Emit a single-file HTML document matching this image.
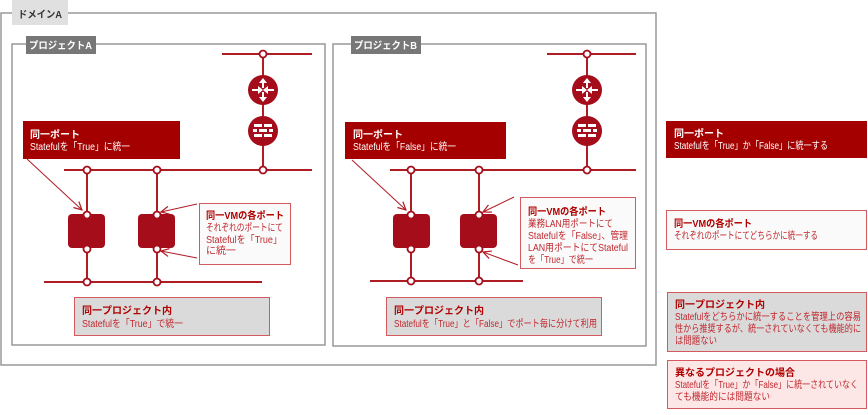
<!DOCTYPE html>
<html><head><meta charset="utf-8"><style>
body{margin:0;background:#fff}
svg text{font-family:"Liberation Sans","Noto Sans CJK JP",sans-serif;font-size:10px}
.b{font-weight:bold}
</style></head><body>
<svg width="868" height="410" viewBox="0 0 868 410" xmlns="http://www.w3.org/2000/svg">
<defs>
<marker id="ar" markerWidth="10" markerHeight="10" refX="9" refY="5" orient="auto" markerUnits="userSpaceOnUse"><path d="M1,1 L9,5 L1,9" fill="none" stroke="#b01c24" stroke-width="1.2"/></marker>
</defs>
<rect x="1" y="13" width="655" height="352" fill="none" stroke="#999" stroke-width="1.5"/>
<rect x="12" y="0" width="56" height="25" fill="#e0e0e0"/>
<text x="18" y="18" class="b" fill="#333" textLength="44" lengthAdjust="spacingAndGlyphs">ドメインA</text>
<rect x="12" y="44" width="313" height="301" fill="none" stroke="#999" stroke-width="1.5"/>
<rect x="26" y="36" width="70" height="18" fill="#777"/>
<text x="29" y="49" class="b" fill="#fff" textLength="63" lengthAdjust="spacingAndGlyphs">プロジェクトA</text>
<rect x="333" y="44" width="313" height="302" fill="none" stroke="#999" stroke-width="1.5"/>
<rect x="351" y="36" width="70" height="18" fill="#777"/>
<text x="354" y="49" class="b" fill="#fff" textLength="63" lengthAdjust="spacingAndGlyphs">プロジェクトB</text>

<g stroke="#b01c24" stroke-width="2" fill="none">
<line x1="222" y1="54" x2="312" y2="54"/><line x1="263" y1="54" x2="263" y2="170"/>
<line x1="64" y1="170" x2="312" y2="170"/><line x1="44" y1="282" x2="262" y2="282"/>
<line x1="87" y1="170" x2="87" y2="282"/><line x1="157" y1="170" x2="157" y2="282"/>
<line x1="547" y1="54" x2="636" y2="54"/><line x1="587" y1="54" x2="587" y2="170"/>
<line x1="390" y1="170" x2="636" y2="170"/><line x1="370" y1="281" x2="523" y2="281"/>
<line x1="411" y1="170" x2="411" y2="281"/><line x1="479" y1="170" x2="479" y2="281"/>
</g>
<g transform="translate(263,90)"><circle r="15" fill="#a50d1a"/><g stroke="#fff" stroke-width="2"><line x1="0" y1="-2" x2="0" y2="-9"/><line x1="0" y1="2" x2="0" y2="9"/><line x1="-11" y1="0" x2="-4" y2="0"/><line x1="11" y1="0" x2="4" y2="0"/></g><g fill="#fff"><path d="M-4,-7 L0,-12 L4,-7Z"/><path d="M-4,7 L0,12 L4,7Z"/><path d="M-5,-4 L0,0 L-5,4Z"/><path d="M5,-4 L0,0 L5,4Z"/></g></g>
<g transform="translate(587,90)"><circle r="15" fill="#a50d1a"/><g stroke="#fff" stroke-width="2"><line x1="0" y1="-2" x2="0" y2="-9"/><line x1="0" y1="2" x2="0" y2="9"/><line x1="-11" y1="0" x2="-4" y2="0"/><line x1="11" y1="0" x2="4" y2="0"/></g><g fill="#fff"><path d="M-4,-7 L0,-12 L4,-7Z"/><path d="M-4,7 L0,12 L4,7Z"/><path d="M-5,-4 L0,0 L-5,4Z"/><path d="M5,-4 L0,0 L5,4Z"/></g></g>
<g transform="translate(263,131)"><circle r="15" fill="#a50d1a"/><g fill="#fff"><rect x="-9" y="-7" width="8" height="3"/><rect x="1" y="-7" width="8" height="3"/><rect x="-10" y="-2" width="4" height="3"/><rect x="-4" y="-2" width="8" height="3"/><rect x="6" y="-2" width="4" height="3"/><rect x="-9" y="3" width="8" height="3"/><rect x="1" y="3" width="8" height="3"/></g></g>
<g transform="translate(587,131)"><circle r="15" fill="#a50d1a"/><g fill="#fff"><rect x="-9" y="-7" width="8" height="3"/><rect x="1" y="-7" width="8" height="3"/><rect x="-10" y="-2" width="4" height="3"/><rect x="-4" y="-2" width="8" height="3"/><rect x="6" y="-2" width="4" height="3"/><rect x="-9" y="3" width="8" height="3"/><rect x="1" y="3" width="8" height="3"/></g></g>
<g fill="#a50d1a">
<rect x="68" y="214" width="37" height="34" rx="4"/><rect x="138" y="214" width="37" height="34" rx="4"/>
<rect x="393" y="214" width="37" height="34" rx="4"/><rect x="460" y="214" width="37" height="34" rx="4"/>
</g>
<g fill="#fff" stroke="#a50d1a" stroke-width="1.8">
<circle cx="263" cy="54" r="3.5"/><circle cx="87" cy="170" r="3.5"/><circle cx="157" cy="170" r="3.5"/><circle cx="263" cy="170" r="3.5"/>
<circle cx="87" cy="215" r="3.5"/><circle cx="157" cy="215" r="3.5"/><circle cx="87" cy="249" r="3.5"/><circle cx="157" cy="249" r="3.5"/>
<circle cx="87" cy="282" r="3.5"/><circle cx="157" cy="282" r="3.5"/>
<circle cx="587" cy="54" r="3.5"/><circle cx="411" cy="170" r="3.5"/><circle cx="479" cy="170" r="3.5"/><circle cx="587" cy="170" r="3.5"/>
<circle cx="411" cy="215" r="3.5"/><circle cx="479" cy="215" r="3.5"/><circle cx="411" cy="249" r="3.5"/><circle cx="479" cy="249" r="3.5"/>
<circle cx="411" cy="281" r="3.5"/><circle cx="479" cy="281" r="3.5"/>
</g>

<rect x="23" y="121" width="157" height="38" fill="#a50000"/>
<text x="30" y="138" class="b" fill="#fff">同一ポート</text>
<text x="30" y="150" fill="#fff" textLength="100" lengthAdjust="spacingAndGlyphs">Statefulを「True」に統一</text>
<g stroke="#b01c24" stroke-width="1" marker-end="url(#ar)"><line x1="27" y1="159" x2="82" y2="210"/><line x1="197" y1="204" x2="161" y2="212"/><line x1="197" y1="258" x2="161" y2="251"/></g>
<rect x="199.5" y="203.5" width="91" height="61" fill="#fafafa" stroke="#d45a60"/>
<text x="206" y="219" class="b" fill="#b00000" textLength="78" lengthAdjust="spacingAndGlyphs">同一VMの各ポート</text>
<text fill="#c0282e" x="206" y="231" textLength="77" lengthAdjust="spacingAndGlyphs">それぞれのポートにて</text>
<text fill="#c0282e" x="206" y="243" textLength="76" lengthAdjust="spacingAndGlyphs">Statefulを「True」</text>
<text fill="#c0282e" x="206" y="254">に統一</text>
<rect x="74.5" y="297.5" width="195" height="38" fill="#dadada" stroke="#d45a60"/>
<text x="82" y="314" class="b" fill="#b00000">同一プロジェクト内</text>
<text x="82" y="327" fill="#c0282e" textLength="101" lengthAdjust="spacingAndGlyphs">Statefulを「True」で統一</text>

<rect x="345" y="122" width="161" height="37" fill="#a50000"/>
<text x="353" y="138" class="b" fill="#fff">同一ポート</text>
<text x="353" y="150" fill="#fff" textLength="103" lengthAdjust="spacingAndGlyphs">Statefulを「False」に統一</text>
<g stroke="#b01c24" stroke-width="1" marker-end="url(#ar)"><line x1="352" y1="160" x2="406" y2="210"/><line x1="514" y1="197" x2="483" y2="212"/><line x1="518" y1="265" x2="483" y2="252"/></g>
<rect x="520.5" y="197.5" width="115" height="71" fill="#fafafa" stroke="#d45a60"/>
<text x="528" y="215" class="b" fill="#b00000" textLength="78" lengthAdjust="spacingAndGlyphs">同一VMの各ポート</text>
<text fill="#c0282e" x="528" y="227" textLength="85" lengthAdjust="spacingAndGlyphs">業務LAN用ポートにて</text>
<text fill="#c0282e" x="528" y="239" textLength="100" lengthAdjust="spacingAndGlyphs">Statefulを「False」、管理</text>
<text fill="#c0282e" x="528" y="251" textLength="100" lengthAdjust="spacingAndGlyphs">LAN用ポートにてStateful</text>
<text fill="#c0282e" x="528" y="263" textLength="65" lengthAdjust="spacingAndGlyphs">を「True」で統一</text>
<rect x="386.5" y="297.5" width="215" height="38" fill="#dadada" stroke="#d45a60"/>
<text x="394" y="314" class="b" fill="#b00000">同一プロジェクト内</text>
<text x="394" y="327" fill="#c0282e" textLength="203" lengthAdjust="spacingAndGlyphs">Statefulを「True」と「False」でポート毎に分けて利用</text>

<rect x="666" y="121" width="201" height="37" fill="#a50000"/>
<text x="674" y="137" class="b" fill="#fff">同一ポート</text>
<text x="674" y="149" fill="#fff" textLength="154" lengthAdjust="spacingAndGlyphs">Statefulを「True」か「False」に統一する</text>
<rect x="666.5" y="210.5" width="200" height="39" fill="#fafafa" stroke="#d45a60"/>
<text x="674" y="227" class="b" fill="#b00000" textLength="78" lengthAdjust="spacingAndGlyphs">同一VMの各ポート</text>
<text x="674" y="239" fill="#c0282e" textLength="144" lengthAdjust="spacingAndGlyphs">それぞれのポートにてどちらかに統一する</text>
<rect x="667.5" y="292.5" width="199" height="59" fill="#dadada" stroke="#d45a60"/>
<text x="675" y="308" class="b" fill="#b00000">同一プロジェクト内</text>
<text fill="#c0282e" x="675" y="320" textLength="186" lengthAdjust="spacingAndGlyphs">Statefulをどちらかに統一することを管理上の容易</text>
<text fill="#c0282e" x="675" y="332" textLength="186" lengthAdjust="spacingAndGlyphs">性から推奨するが、統一されていなくても機能的に</text>
<text fill="#c0282e" x="675" y="344" textLength="42" lengthAdjust="spacingAndGlyphs">は問題ない</text>
<rect x="667.5" y="360.5" width="199" height="48" fill="#fde6e6" stroke="#d45a60"/>
<text x="675" y="376" class="b" fill="#b00000">異なるプロジェクトの場合</text>
<text fill="#c0282e" x="675" y="388" textLength="183" lengthAdjust="spacingAndGlyphs">Statefulを「True」か「False」に統一されていなく</text>
<text fill="#c0282e" x="675" y="400" textLength="95" lengthAdjust="spacingAndGlyphs">ても機能的には問題ない</text>
</svg>
</body></html>
